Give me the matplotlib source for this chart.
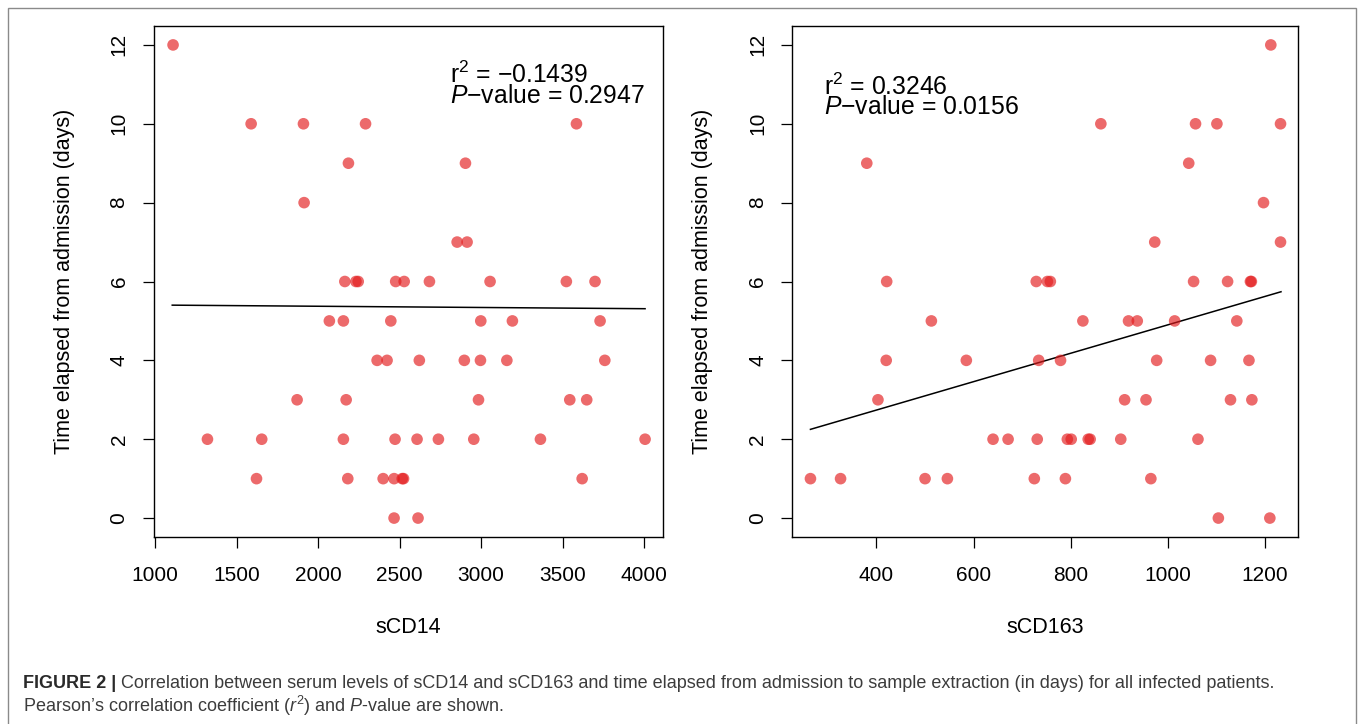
import numpy as np
import matplotlib
matplotlib.use("Agg")
import matplotlib.pyplot as plt
from matplotlib.patches import Rectangle

plt.rcParams['font.family'] = ['Liberation Sans', 'DejaVu Sans']
plt.rcParams['mathtext.fontset'] = 'custom'
plt.rcParams['mathtext.rm'] = 'Liberation Sans'
plt.rcParams['mathtext.it'] = 'Liberation Sans:italic'
plt.rcParams['mathtext.bf'] = 'Liberation Sans:bold'

# ---------------- data ----------------
scd14 = [1110,
         1589, 1910, 2291, 3585,
         2186, 2904,
         1914,
         2853, 2914,
         2164, 2232, 2246, 2476, 2528, 2683, 3055, 3523, 3699,
         2069, 2155, 2446, 2998, 3192, 3730,
         2362, 2423, 2621, 2897, 2996, 3158, 3759,
         1871, 2172, 2984, 3544, 3648,
         1321, 1654, 2155, 2472, 2607, 2738, 2955, 3364, 4006,
         1622, 2182, 2399, 2466, 2516, 2524, 3620,
         2466, 2613]
days14 = [12,
          10, 10, 10, 10,
          9, 9,
          8,
          7, 7,
          6, 6, 6, 6, 6, 6, 6, 6, 6,
          5, 5, 5, 5, 5, 5,
          4, 4, 4, 4, 4, 4, 4,
          3, 3, 3, 3, 3,
          2, 2, 2, 2, 2, 2, 2, 2, 2,
          1, 1, 1, 1, 1, 1, 1,
          0, 0]

scd163 = [1212,
          862, 1057, 1101, 1232,
          380, 1043,
          1197,
          973, 1232,
          421, 729, 752, 758, 1053, 1123, 1170, 1172,
          513, 825, 919, 937, 1014, 1142,
          420, 585, 734, 779, 977, 1088, 1167,
          403, 911, 955, 1129, 1173,
          640, 671, 731, 793, 801, 836, 840, 903, 1062,
          264, 326, 500, 546, 725, 789, 965,
          1104, 1210]
days163 = [12,
           10, 10, 10, 10,
           9, 9,
           8,
           7, 7,
           6, 6, 6, 6, 6, 6, 6, 6,
           5, 5, 5, 5, 5, 5,
           4, 4, 4, 4, 4, 4, 4,
           3, 3, 3, 3, 3,
           2, 2, 2, 2, 2, 2, 2, 2, 2,
           1, 1, 1, 1, 1, 1, 1,
           0, 0]

# fitted regression lines (endpoints)
fit14_x = [1105, 4006]
fit14_y = [5.40, 5.31]
fit163_x = [264, 1233]
fit163_y = [2.25, 5.74]

stats14 = ("\u22120.1439", "0.2947")
stats163 = ("0.3246", "0.0156")

xticks14 = [1000, 1500, 2000, 2500, 3000, 3500, 4000]
xticks163 = [400, 600, 800, 1000, 1200]
yticks = [0, 2, 4, 6, 8, 10, 12]

# ---------------- figure ----------------
W, H = 1358, 724
fig = plt.figure(figsize=(W / 100, H / 100), dpi=100)

# outer frame
fig.add_artist(Rectangle((8 / W, -0.01), (1356 - 8) / W, 1.01 - 8 / H,
                         transform=fig.transFigure, fill=False,
                         edgecolor='#8a8a8a', linewidth=1.0))

def fpos(x0, x1, y0, y1):
    return [x0 / W, (H - y1) / H, (x1 - x0) / W, (y1 - y0) / H]

ax1 = fig.add_axes(fpos(153.5, 663, 26, 537))
ax2 = fig.add_axes(fpos(792, 1298, 26, 537))

pt_color = '#E31A1C'
lab_fs = 15.5
tick_fs = 15

def style(ax, xs, xt, xlim, xlabel):
    ax.set_xlim(*xlim)
    ax.set_ylim(-0.48, 12.48)
    ax.set_xticks(xt)
    ax.set_yticks(yticks)
    ax.set_xticklabels([str(v) for v in xt], fontsize=tick_fs)
    ax.set_yticklabels([str(v) for v in yticks], fontsize=tick_fs,
                       rotation=90, va='center')
    ax.tick_params(direction='out', length=8, width=0.9, color='black')
    ax.tick_params(axis='x', pad=13)
    ax.tick_params(axis='y', pad=10)
    for s in ax.spines.values():
        s.set_linewidth(1.0)
        s.set_color('black')
    ax.set_xlabel(xlabel, fontsize=lab_fs)
    ax.set_ylabel('Time elapsed from admission (days)', fontsize=lab_fs)
    ax.xaxis.label.set_va('center')
    ax.yaxis.label.set_va('center')

style(ax1, scd14, xticks14, (990, 4116), 'sCD14')
style(ax2, scd163, xticks163, (226, 1268), 'sCD163')
ax1.xaxis.set_label_coords(0.5, -0.178)
ax2.xaxis.set_label_coords(0.5, -0.178)
ax1.yaxis.set_label_coords(-0.175, 0.5)
ax2.yaxis.set_label_coords(-0.176, 0.5)

ax1.scatter(scd14, days14, s=70, color=pt_color, alpha=0.65,
            edgecolors='none', zorder=3)
ax2.scatter(scd163, days163, s=70, color=pt_color, alpha=0.65,
            edgecolors='none', zorder=3)
ax1.plot(fit14_x, fit14_y, color='black', lw=1.1, zorder=2)
ax2.plot(fit163_x, fit163_y, color='black', lw=1.1, zorder=2)

ann_fs = 17.8

def stat_text(ax, x, y_base, stats):
    txt = (r'r$^{2}$ = ' + stats[0] + '\n' +
           r'$P$' + '\u2212value = ' + stats[1])
    ax.text(x, y_base, txt, fontsize=ann_fs, ha='left', va='baseline',
            linespacing=0.78, multialignment='left')

stat_text(ax1, 2810, 10.52, stats14)
stat_text(ax2, 292, 10.24, stats163)

# ---------------- caption ----------------
cap_fs = 13
cap_col = '#3c3c3c'
y1 = 1 - 688 / H
y2 = 1 - 712 / H
t_bold = fig.text(23 / W, y1, 'FIGURE 2 |', fontsize=cap_fs, fontweight='bold',
                  color='#2a2a2a', ha='left', va='baseline')
fig.canvas.draw()
bb = t_bold.get_window_extent(renderer=fig.canvas.get_renderer())
fig.text(bb.x1 / W + 5 / W, y1,
         'Correlation between serum levels of sCD14 and sCD163 and time elapsed '
         'from admission to sample extraction (in days) for all infected patients.',
         fontsize=cap_fs, color=cap_col, ha='left', va='baseline')
fig.text(23 / W, y2,
         "Pearson\u2019s correlation coefficient ($r^{2}$) and $P$-value are shown.",
         fontsize=cap_fs, color=cap_col, ha='left', va='baseline')

fig.savefig('out.png', dpi=100)
